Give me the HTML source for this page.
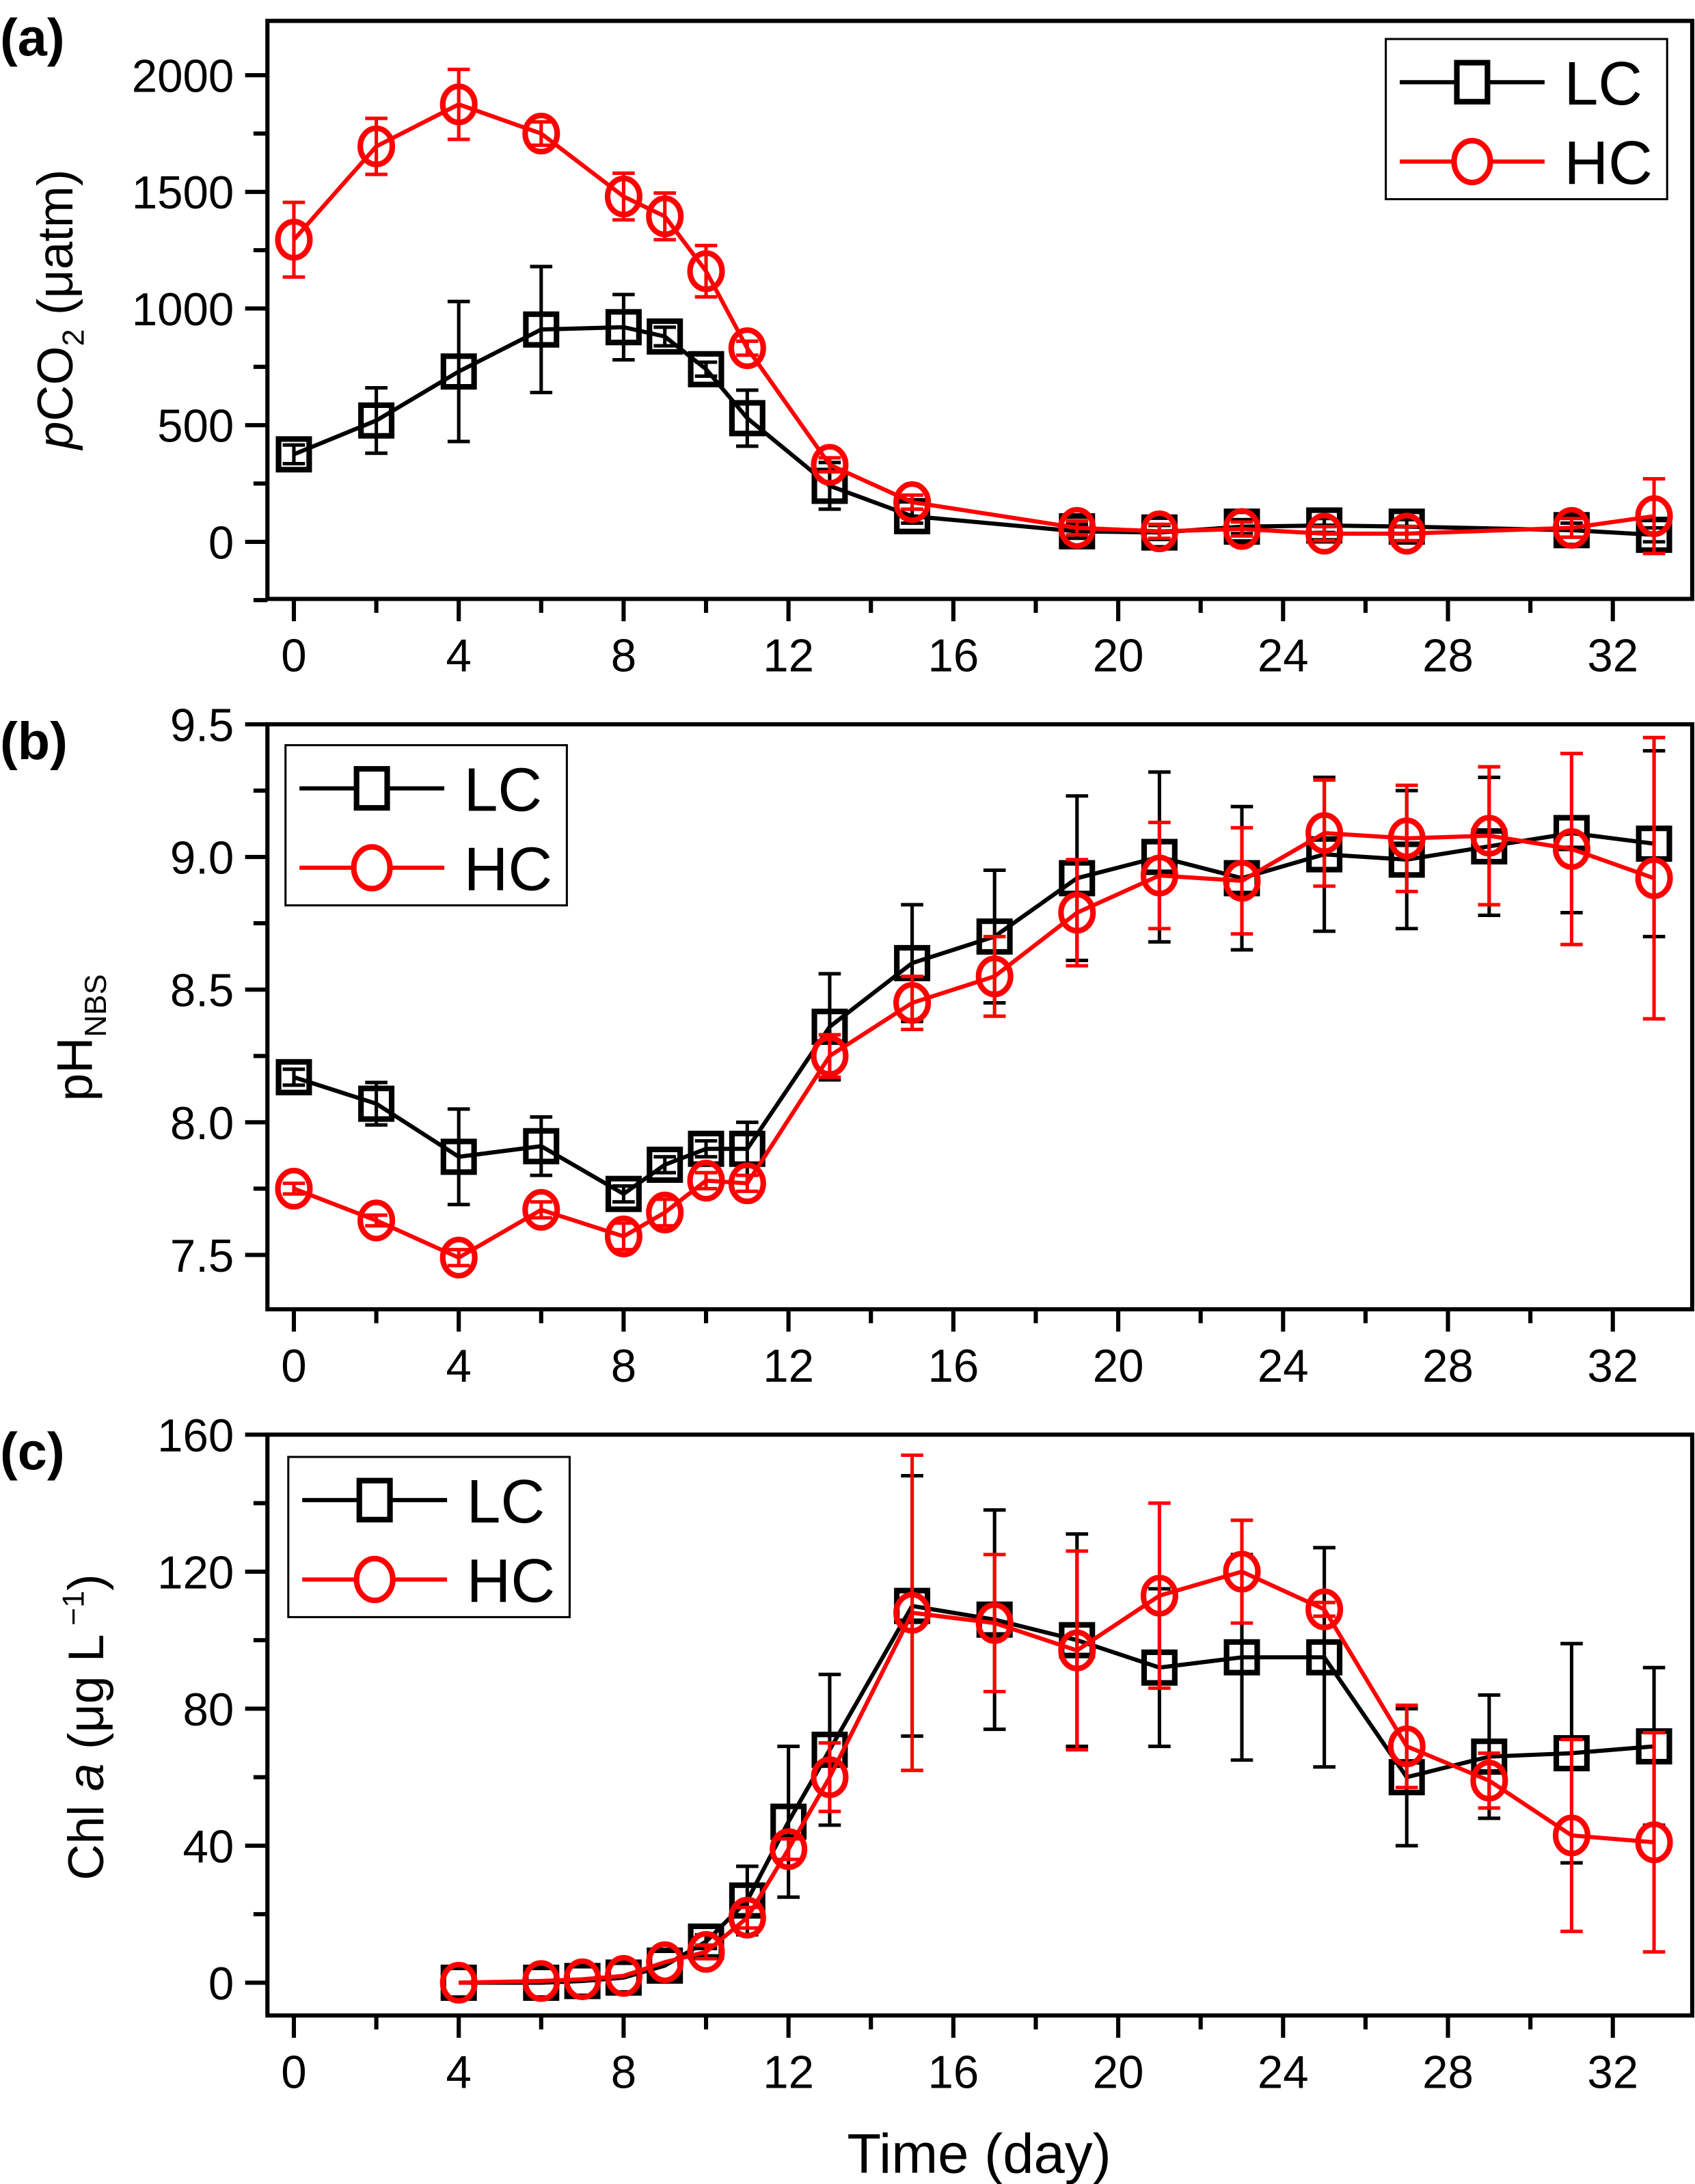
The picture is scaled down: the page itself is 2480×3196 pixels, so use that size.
<!DOCTYPE html>
<html><head><meta charset="utf-8"><style>
html,body{margin:0;padding:0;background:#fff;}
svg{display:block;font-family:"Liberation Sans",Arial,sans-serif;}
</style></head><body>
<svg id="chart" width="2480" height="3196" viewBox="0 0 1217 1568" preserveAspectRatio="none" xmlns="http://www.w3.org/2000/svg"></svg>
<script>
// ---- Panel (a) pCO2 ----
const aDaysLC=[0,2,4,6,8,9,10,11,13,15,19,21,23,25,27,31,33];
const aLC=[375,520,730,910,920,880,740,530,240,110,45,40,65,70,65,50,30];
const aLCerr=[40,140,300,270,140,40,30,120,100,30,30,30,30,30,30,30,30];
const aDaysHC=[0,2,4,6,8,9,10,11,13,15,19,21,23,25,27,31,33];
const aHC=[1295,1695,1875,1750,1480,1395,1160,830,330,170,60,45,55,35,35,60,110];
const aHCerr=[160,120,150,50,100,100,110,30,30,30,30,30,30,30,30,40,160];
const aTicks=[0,500,1000,1500,2000];
// ---- Panel (b) pH ----
const bDays=[0,2,4,6,8,9,10,11,13,15,17,19,21,23,25,27,29,31,33];
const bLC=[8.17,8.07,7.87,7.91,7.73,7.84,7.90,7.90,8.36,8.60,8.70,8.92,9.00,8.92,9.01,8.99,9.04,9.09,9.05];
const bLCerr=[0.03,0.08,0.18,0.11,0.03,0.03,0.03,0.10,0.20,0.22,0.25,0.31,0.32,0.27,0.29,0.26,0.26,0.30,0.35];
const bHC=[7.75,7.63,7.49,7.67,7.57,7.66,7.78,7.77,8.25,8.45,8.55,8.79,8.93,8.91,9.09,9.07,9.08,9.03,8.92];
const bHCerr=[0.02,0.02,0.03,0.03,0.05,0.05,0.03,0.03,0.08,0.10,0.15,0.20,0.20,0.20,0.20,0.20,0.26,0.36,0.53];
const bTicks=["7.5","8.0","8.5","9.0","9.5"];
// ---- Panel (c) Chl a ----
const cDays=[4,6,7,8,9,10,11,12,13,15,17,19,21,23,25,27,29,31,33];
const cLC=[0,0,0.5,1.5,5,12,24,47,68,110,106,100,92,95,95,60,66,67,69];
const cLCerr=[0,0,0,0,0,2,10,22,22,38,32,31,23,30,32,20,18,32,23];
const cHC=[0,0.5,1,2,6,9,19,39,60,108,105,97,113,120,109,69,59,43,41];
const cHCerr=[0,0,0,0,0,2,3,3,10,46,20,29,27,15,2,12,8,28,32];
const cTicks=[0,40,80,120,160];
const xTicks=[0,4,8,12,16,20,24,28,32];

const NS="http://www.w3.org/2000/svg";
const svg=document.getElementById('chart');
function mk(tag,attrs,parent,text){const e=document.createElementNS(NS,tag);for(const k in attrs)e.setAttribute(k,attrs[k]);if(text!==undefined)e.textContent=text;(parent||svg).appendChild(e);return e;}

const L=192,R=1215;
const xScale=d=>211+d*(1158-211)/32;

function panel(id,top,bottom,yFn,ticks,minorVals,label,series,legend){
  const g=mk('g',{},svg);
  
  
  const box=mk('rect',{x:L,y:top,width:R-L,height:bottom-top,fill:'none',stroke:'#000','stroke-width':3},g);
  
  
  // x ticks
  for(let d=0;d<=34;d+=2){const x=xScale(d);if(x>R)break;const maj=d%4===0;
    const t=mk('line',{x1:x,x2:x,y1:bottom,y2:bottom+(maj?16:10),stroke:'#000','stroke-width':3},g);
    }
  xTicks.forEach(d=>{const t=mk('text',{x:xScale(d),y:bottom+52,'font-size':33,'text-anchor':'middle'},g,String(d));
    });
  // y ticks
  ticks.forEach(v=>{const y=yFn(parseFloat(v));
    const t=mk('line',{x1:L-16,x2:L,y1:y,y2:y,stroke:'#000','stroke-width':3},g);
    
    const tl=mk('text',{x:L-24,y:y+12,'font-size':33,'text-anchor':'end'},g,String(v));
    });
  minorVals.forEach(v=>{const y=yFn(v);
    const t=mk('line',{x1:L-10,x2:L,y1:y,y2:y,stroke:'#000','stroke-width':3},g);
    });
  const pl=mk('text',{x:0,y:top+25,'font-size':38,'font-weight':'bold'},g,'('+id+')');
  
  label(g);
  series.forEach(s=>{
    const sg=mk('g',{},g);
    
    
    const pts=s.days.map((d,i)=>[xScale(d),yFn(s.vals[i])]);
    const ln=mk('polyline',{points:pts.map(p=>p.join(',')).join(' '),fill:'none',stroke:s.color,'stroke-width':3},sg);
    
    s.days.forEach((d,i)=>{const x=xScale(d),e=s.err[i];
      if(e>0){const y1=yFn(s.vals[i]+e),y2=yFn(s.vals[i]-e);
        const eb=mk('path',{d:`M${x},${y1}V${y2}M${x-8},${y1}H${x+8}M${x-8},${y2}H${x+8}`,stroke:s.color,'stroke-width':2.5,fill:'none'},sg);
        }
    });
    s.days.forEach((d,i)=>{const x=xScale(d),y=yFn(s.vals[i]);
      let m;
      if(s.shape==='sq') m=mk('rect',{x:x-11,y:y-11,width:22,height:22,fill:'none',stroke:s.color,'stroke-width':4},sg);
      else m=mk('ellipse',{cx:x,cy:y,rx:11.5,ry:13,fill:'none',stroke:s.color,'stroke-width':4},sg);
      
    });
  });
  // legend
  const lg=mk('g',{},g);
  
  mk('rect',{x:legend[0],y:legend[1],width:202,height:115,fill:'#fff',stroke:'#000','stroke-width':1.5},lg);
  [['LC','#000','sq'],['HC','#f00','ci']].forEach((e,k)=>{
    const yy=legend[1]+31+k*57,x0=legend[0]+10;
    const en=mk('g',{},lg);
    
    mk('line',{x1:x0,x2:x0+104,y1:yy,y2:yy,stroke:e[1],'stroke-width':3},en);
    if(e[2]==='sq')mk('rect',{x:x0+41,y:yy-14,width:22,height:28,fill:'#fff',stroke:e[1],'stroke-width':4},en);
    else mk('ellipse',{cx:x0+52,cy:yy,rx:13,ry:15,fill:'#fff',stroke:e[1],'stroke-width':4},en);
    mk('text',{x:x0+118,y:yy+16,'font-size':44},en,e[0]);
  });
}

// Panel a
const yA=v=>389-v*(389-54)/2000;
panel('a',15,430,yA,aTicks,[-250,250,750,1250,1750,2250].filter(v=>v<2233),g=>{
  const t=mk('text',{transform:'translate(52,222) rotate(-90)','font-size':36,'text-anchor':'middle'},g);
  
  mk('tspan',{'font-style':'italic'},t,'p');mk('tspan',{},t,'CO');mk('tspan',{'font-size':22,dy:8},t,'2');mk('tspan',{dy:-8},t,' (μatm)');
},[{name:'LC',days:aDaysLC,vals:aLC,err:aLCerr,color:'#000',shape:'sq'},{name:'HC',days:aDaysHC,vals:aHC,err:aHCerr,color:'#f00',shape:'ci'}],[995,28]);

// Panel b
const yB=v=>901-(v-7.5)*(901-520)/2;
panel('b',520,940,yB,bTicks,[7.75,8.25,8.75,9.25],g=>{
  const t=mk('text',{transform:'translate(66,745) rotate(-90)','font-size':36,'text-anchor':'middle'},g);
  
  mk('tspan',{},t,'pH');mk('tspan',{'font-size':22,dy:10},t,'NBS');
},[{name:'LC',days:bDays,vals:bLC,err:bLCerr,color:'#000',shape:'sq'},{name:'HC',days:bDays,vals:bHC,err:bHCerr,color:'#f00',shape:'ci'}],[205,535]);

// Panel c
const yC=v=>1423.5-v*(1423.5-1030)/160;
panel('c',1030,1447,yC,cTicks,[20,60,100,140],g=>{
  const t=mk('text',{transform:'translate(74,1240) rotate(-90)','font-size':36,'text-anchor':'middle'},g);
  
  mk('tspan',{},t,'Chl ');mk('tspan',{'font-style':'italic'},t,'a');mk('tspan',{},t,' (μg L');mk('tspan',{'font-size':22,dy:-14},t,' −1');mk('tspan',{dy:14},t,')');
},[{name:'LC',days:cDays,vals:cLC,err:cLCerr,color:'#000',shape:'sq'},{name:'HC',days:cDays,vals:cHC,err:cHCerr,color:'#f00',shape:'ci'}],[207,1046]);

const xt=mk('text',{x:703,y:1560,'font-size':40,'text-anchor':'middle'},svg,'Time (day)');


</script>
</body></html>
